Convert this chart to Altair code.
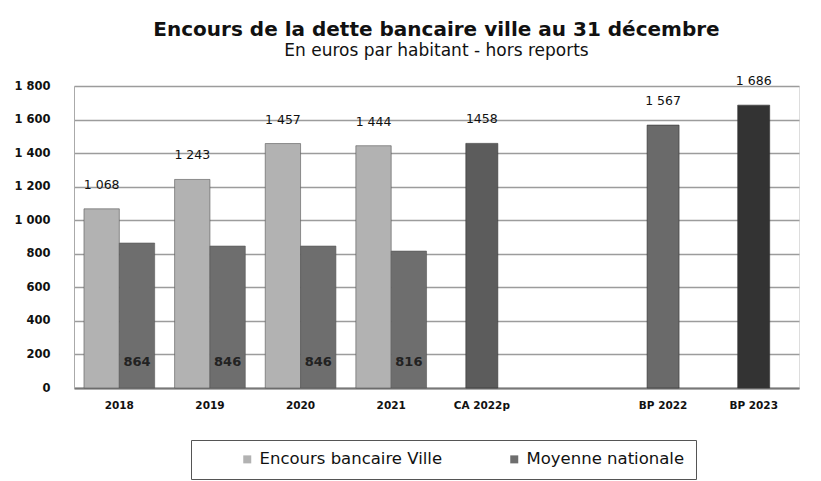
import altair as alt
import pandas as pd

# ---- data ----
x_domain = ["2018", "2019", "2020", "2021", "CA 2022p", " ", "BP 2022", "BP 2023"]
years = ["2018", "2019", "2020", "2021"]
ville = [1068, 1243, 1457, 1444]
ville_labels = ["1 068", "1 243", "1 457", "1 444"]
moyenne = [864, 846, 846, 816]
moyenne_labels = ["864", "846", "846", "816"]
single_cats = ["CA 2022p", "BP 2022", "BP 2023"]
single_vals = [1458, 1567, 1686]
single_labels = ["1458", "1 567", "1 686"]
single_colors = ["#5c5c5c", "#6a6a6a", "#333333"]
series_names = ["Encours bancaire Ville", "Moyenne nationale"]
series_colors = ["#b2b2b2", "#6e6e6e"]
y_ticks = [0, 200, 400, 600, 800, 1000, 1200, 1400, 1600, 1800]

grouped = pd.DataFrame(
    {"cat": years * 2,
     "series": [series_names[0]] * 4 + [series_names[1]] * 4,
     "value": ville + moyenne,
     "label": ville_labels + moyenne_labels}
)
ville_df = grouped[grouped["series"] == series_names[0]]
moy_df = grouped[grouped["series"] == series_names[1]]
single = pd.DataFrame({"cat": single_cats, "value": single_vals,
                       "label": single_labels, "col": single_colors})

FONT = "DejaVu Sans"
xscale = alt.Scale(domain=x_domain, paddingInner=0.22, paddingOuter=0.11)
yscale = alt.Scale(domain=[0, 1800], nice=False)
xoff = alt.XOffset("series:N", scale=alt.Scale(domain=series_names, paddingInner=0.0),
                   sort=series_names)

x_axis = alt.Axis(labelAngle=0, ticks=False, labelPadding=12,
                  labelFont=FONT, labelFontSize=10.5, labelFontWeight="bold",
                  labelColor="#111", domainColor="#777", domainWidth=2)
y_axis = alt.Axis(values=y_ticks, tickCount=10, ticks=False, labelPadding=24,
                  labelOverlap=False, labelFont=FONT, labelFontSize=11.5,
                  labelFontWeight="bold", labelColor="#111",
                  gridColor="#9c9c9c", gridWidth=1.4, domainColor="#aaaaaa",
                  labelExpr="replace(format(datum.value, ','), ',', ' ')")

x_enc = alt.X("cat:N", scale=xscale, sort=x_domain, title=None, axis=x_axis)


def y_enc():
    return alt.Y("value:Q", scale=yscale, title=None, axis=y_axis)


bars = alt.Chart(grouped).mark_bar(stroke="#555", strokeWidth=0.6).encode(
    x=x_enc, xOffset=xoff, y=y_enc(),
    color=alt.Color("series:N", scale=alt.Scale(domain=series_names, range=series_colors),
                    legend=alt.Legend(title=None,
                                      orient="none", legendX=117, legendY=354,
                                      direction="horizontal",
                                      symbolType="square", symbolSize=64, symbolOffset=37,
                                      labelFont=FONT, labelFontSize=16.5, labelColor="#111",
                                      labelLimit=400,
                                      strokeColor="#555", padding=11, columnPadding=26,
                                      symbolStrokeWidth=0)),
)

single_bars = alt.Chart(single).mark_bar(size=32, stroke="#333", strokeWidth=0.6).encode(
    x=x_enc, y=y_enc(),
    color=alt.Color("col:N", scale=None),
)

ville_text = alt.Chart(ville_df).mark_text(baseline="bottom", dy=-17, font=FONT,
                                           fontSize=12.5, color="#111").encode(
    x=x_enc, xOffset=xoff, y=y_enc(), text="label:N",
)

moy_text = alt.Chart(moy_df).mark_text(baseline="middle", dy=-26, font=FONT,
                                       fontSize=13, fontWeight="bold", color="#222").encode(
    x=x_enc, xOffset=xoff,
    y=alt.Y(datum=0, scale=yscale, title=None, axis=y_axis), text="label:N",
)

single_text = alt.Chart(single).mark_text(baseline="bottom", dy=-17, font=FONT,
                                          fontSize=12.5, color="#111").encode(
    x=x_enc, y=y_enc(), text="label:N",
)

chart = alt.layer(bars, single_bars, ville_text, moy_text, single_text).properties(
    width=725, height=302,
    padding={"top": 12, "left": 5, "right": 5, "bottom": 5},
    title=alt.TitleParams(text="Encours de la dette bancaire ville au 31 décembre",
                          subtitle="En euros par habitant - hors reports",
                          font=FONT, fontSize=20, fontWeight="bold", color="#111",
                          subtitleFont=FONT, subtitleFontSize=17, subtitleColor="#111",
                          anchor="middle", offset=16, subtitlePadding=3),
).configure_view(stroke=None).configure(background="white")

chart.save("out.html", embed_options={"renderer": "svg", "actions": False})
